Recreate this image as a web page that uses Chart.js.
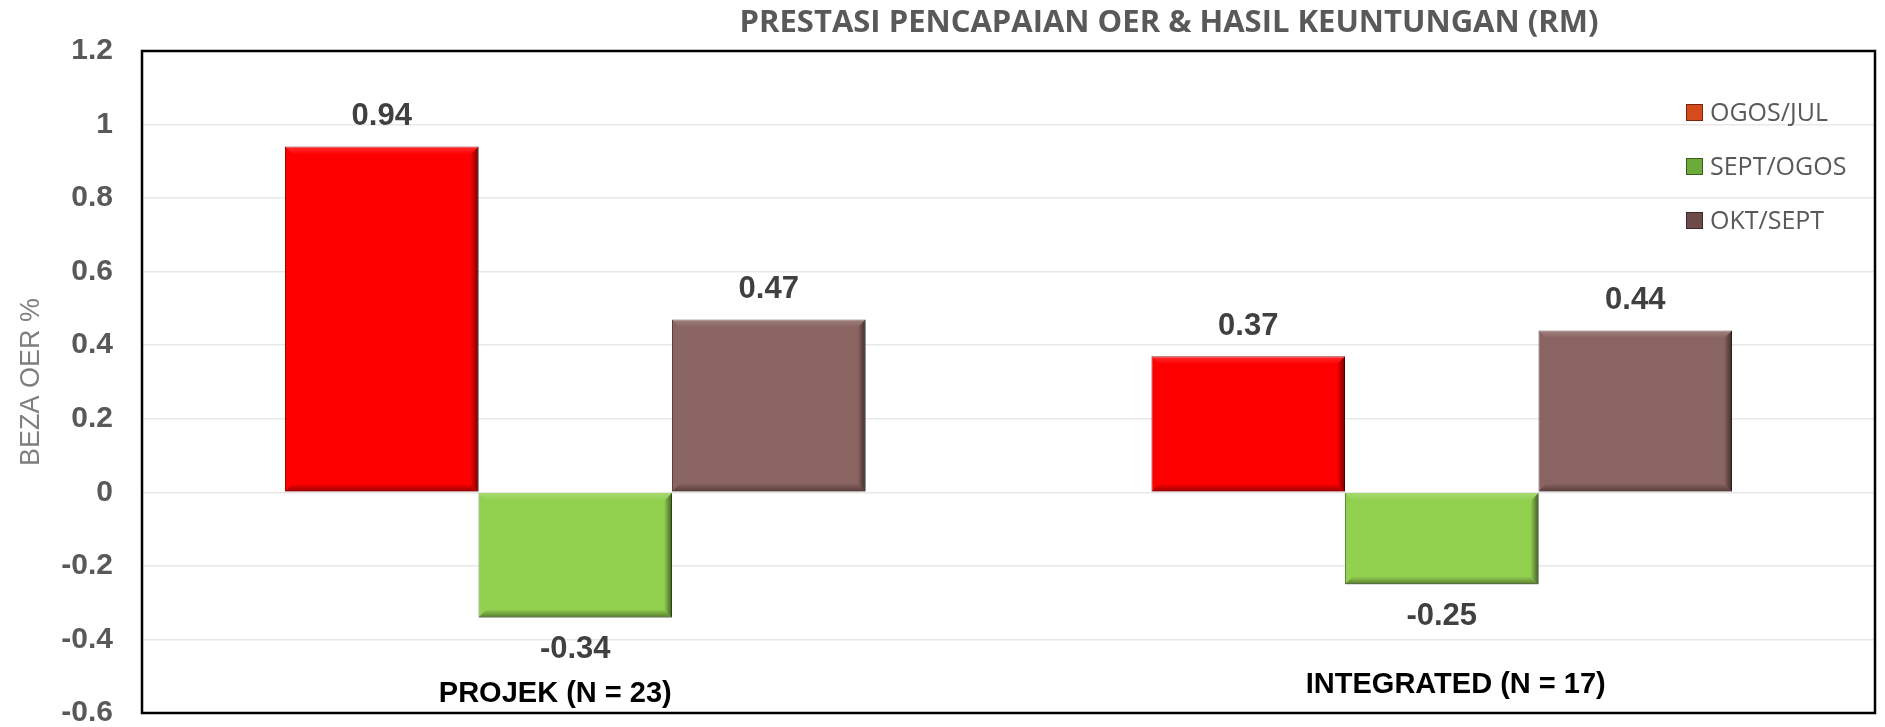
<!DOCTYPE html>
<html lang="ms">
<head>
<meta charset="utf-8">
<title>Prestasi Pencapaian OER</title>
<script src="https://cdn.jsdelivr.net/npm/chart.js@4.4.1/dist/chart.umd.min.js"></script>
<style>
  html, body { margin: 0; padding: 0; background: #fff; }
  #wrap { width: 1885px; height: 727px; position: relative; }
</style>
</head>
<body>
<div id="wrap"><canvas id="grafikOER"></canvas></div>
<script>
// Data carta
const kategori = ['PROJEK (N = 23)', 'INTEGRATED (N = 17)'];
const siri = ['OGOS/JUL', 'SEPT/OGOS', 'OKT/SEPT'];
const ogosJul = [0.94, 0.37];
const septOgos = [-0.34, -0.25];
const oktSept = [0.47, 0.44];
const yTickValues = [-0.6, -0.4, -0.2, 0, 0.2, 0.4, 0.6, 0.8, 1, 1.2];
const yTickLabels = ['-0.6', '-0.4', '-0.2', '0', '0.2', '0.4', '0.6', '0.8', '1', '1.2'];
const tajuk = 'PRESTASI PENCAPAIAN OER & HASIL KEUNTUNGAN (RM)';
const tajukPaksiY = 'BEZA OER %';

// Warna bar, tepi bar dan kotak legenda
const warnaBar = ['#ff0000', '#92d050', '#8a6461'];
const warnaTepi = ['#8b0000', '#5b8a2f', '#5a3f3d'];
const warnaLegenda = ['#d64a1c', '#6cab3a', '#6d4b4b'];

const ARIAL = "'Liberation Sans', Arial, sans-serif";
const CALIBRI = "'Open Sans', 'Liberation Sans', sans-serif";

// Kesan timbul (bevel) pada setiap bar
function lukisBevel(ctx, l, t, r, b, w) {
  let g = ctx.createLinearGradient(r - w, 0, r, 0);
  g.addColorStop(0, 'rgba(0,0,0,0)');
  g.addColorStop(1, 'rgba(0,0,0,0.55)');
  ctx.fillStyle = g;
  ctx.beginPath();
  ctx.moveTo(r, t); ctx.lineTo(r, b); ctx.lineTo(r - w, b - w); ctx.lineTo(r - w, t + w);
  ctx.closePath(); ctx.fill();

  g = ctx.createLinearGradient(0, b - w, 0, b);
  g.addColorStop(0, 'rgba(0,0,0,0)');
  g.addColorStop(1, 'rgba(0,0,0,0.4)');
  ctx.fillStyle = g;
  ctx.beginPath();
  ctx.moveTo(l, b); ctx.lineTo(r, b); ctx.lineTo(r - w, b - w); ctx.lineTo(l + w, b - w);
  ctx.closePath(); ctx.fill();

  g = ctx.createLinearGradient(0, t, 0, t + w);
  g.addColorStop(0, 'rgba(255,255,255,0.18)');
  g.addColorStop(1, 'rgba(255,255,255,0)');
  ctx.fillStyle = g;
  ctx.beginPath();
  ctx.moveTo(l, t); ctx.lineTo(r, t); ctx.lineTo(r - w, t + w); ctx.lineTo(l + w, t + w);
  ctx.closePath(); ctx.fill();
}

const pluginBevel = {
  id: 'bevel',
  afterDatasetsDraw(chart) {
    const ctx = chart.ctx;
    ctx.save();
    chart.data.datasets.forEach((ds, i) => {
      chart.getDatasetMeta(i).data.forEach((bar) => {
        const p = bar.getProps(['x', 'y', 'base', 'width'], true);
        const l = p.x - p.width / 2, r = p.x + p.width / 2;
        const t = Math.min(p.y, p.base), b = Math.max(p.y, p.base);
        lukisBevel(ctx, l, t, r, b, 8);
      });
    });
    ctx.restore();
  }
};

// Nilai di atas / bawah bar
const pluginNilai = {
  id: 'nilai',
  afterDatasetsDraw(chart) {
    const ctx = chart.ctx;
    ctx.save();
    ctx.font = 'bold 31px ' + ARIAL;
    ctx.fillStyle = '#404040';
    ctx.textAlign = 'center';
    ctx.textBaseline = 'middle';
    chart.data.datasets.forEach((ds, i) => {
      chart.getDatasetMeta(i).data.forEach((bar, j) => {
        const v = ds.data[j];
        const y = v >= 0 ? bar.y - 30 : bar.y + 32;
        ctx.fillText(String(v), bar.x, y);
      });
    });
    ctx.restore();
  }
};

// Tajuk, legenda, label kategori dan bingkai
const pluginHiasan = {
  id: 'hiasan',
  afterDraw(chart) {
    const ctx = chart.ctx;
    const area = chart.chartArea;
    const x = chart.scales.x;
    ctx.save();

    // tajuk
    ctx.font = 'bold 31px ' + CALIBRI;
    ctx.fillStyle = '#595959';
    ctx.textAlign = 'center';
    ctx.textBaseline = 'middle';
    ctx.fillText(tajuk, 1169, 23);

    // label kategori (kotak teks di dalam plot)
    const anjakX = [-20, 14];
    const anjakY = [-19, -28];
    ctx.font = 'bold 29px ' + ARIAL;
    ctx.fillStyle = '#000';
    kategori.forEach((k, i) => {
      ctx.fillText(k, x.getPixelForValue(i) + anjakX[i], area.bottom + anjakY[i]);
    });

    // legenda
    ctx.font = '25px ' + CALIBRI;
    ctx.textAlign = 'left';
    siri.forEach((nama, i) => {
      const ly = area.top + 62 + i * 54;
      const lx = area.right - 189;
      ctx.fillStyle = warnaLegenda[i];
      ctx.fillRect(lx, ly - 9, 17, 17);
      ctx.strokeStyle = 'rgba(0,0,0,0.45)';
      ctx.lineWidth = 1;
      ctx.strokeRect(lx + 0.5, ly - 8.5, 16, 16);
      ctx.fillStyle = '#595959';
      ctx.fillText(nama, lx + 24, ly + 1);
    });

    // bingkai plot
    ctx.strokeStyle = '#000';
    ctx.lineWidth = 2.5;
    ctx.strokeRect(area.left, area.top, area.right - area.left, area.bottom - area.top);
    ctx.restore();
  }
};

const ctx = document.getElementById('grafikOER').getContext('2d');

const grafikOER = new Chart(ctx, {
  type: 'bar',
  data: {
    labels: kategori,
    datasets: [ogosJul, septOgos, oktSept].map((d, i) => ({
      label: siri[i],
      data: d,
      backgroundColor: warnaBar[i],
      borderColor: warnaTepi[i],
      borderWidth: 1,
      categoryPercentage: 0.67,
      barPercentage: 1.0
    }))
  },
  options: {
    responsive: true,
    maintainAspectRatio: false,
    animation: false,
    layout: { padding: { top: 51, right: 10, bottom: 14, left: 0 } },
    scales: {
      x: { display: false },
      y: {
        min: -0.6,
        max: 1.2,
        afterBuildTicks: (s) => { s.ticks = yTickValues.map((v) => ({ value: v })); },
        afterFit: (s) => { s.width = 142; s.paddingTop = 0; s.paddingBottom = 0; },
        ticks: {
          callback: (v, i) => yTickLabels[i],
          font: { family: ARIAL, size: 30, weight: 'bold' },
          color: '#595959',
          padding: 29
        },
        grid: { color: '#e8e8e8', lineWidth: 1.5, drawTicks: false },
        border: { display: false },
        title: {
          display: true,
          text: tajukPaksiY,
          font: { family: ARIAL, size: 27 },
          color: '#7f7f7f',
          padding: { top: 15, bottom: 0 }
        }
      }
    },
    plugins: {
      legend: { display: false },
      tooltip: { enabled: false }
    }
  },
  plugins: [pluginBevel, pluginNilai, pluginHiasan]
});
</script>
</body>
</html>
